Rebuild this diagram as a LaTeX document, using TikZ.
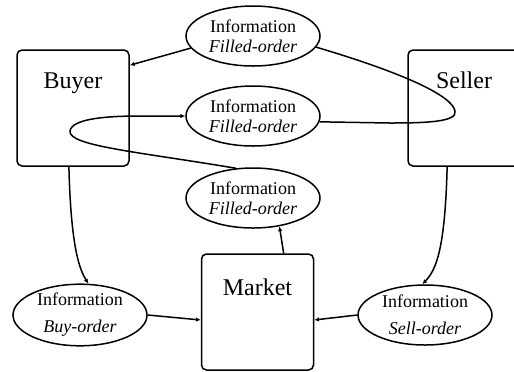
\documentclass[tikz,border=0pt]{standalone}
\usepackage{fontspec}
\setmainfont{Liberation Serif}
\usetikzlibrary{arrows.meta,shapes.geometric}

\begin{document}
\begin{tikzpicture}[
            x=0.5pt, y=-0.5pt,
            line width=0.75pt,
            box/.style={draw, rectangle, rounded corners=2.5pt, minimum width=56pt, minimum height=58pt,
                        inner sep=0pt, text height=8pt, font=\fontsize{12}{14}\selectfont},
            info/.style={draw, ellipse, minimum width=67pt, minimum height=30pt, inner sep=0pt,
                        align=center, font=\fontsize{9}{10}\selectfont},
            arr/.style={-{Latex[length=2.4pt, width=2.2pt]}}
        ]
            \useasboundingbox (0,0) rectangle (514,371);

            % agents
            \node[box, text depth=28pt] (buyer) at (73,108) {Buyer};
            \node[box, text depth=28pt] (seller) at (464,108) {Seller};
            \node[box, text depth=25pt] (market) at (257.5,312) {Market};

            % information
            \node[info] (filltop) at (253,36) {Information \\ \textit{Filled-order}};
            \node[info] (fillmid) at (253,116) {Information \\ \textit{Filled-order}};
            \node[info] (fillbot) at (253,198) {Information \\ \textit{Filled-order}};
            \node[info] (buyinfo) at (80,315) {Information \\[3.5pt] \textit{Buy-order}};
            \node[info] (sellinfo) at (425,315) {Information \\[3.5pt] \textit{Sell-order}};

            \draw[arr] (buyer.-94) .. controls (71,250) and (80,270) .. (buyinfo.75);
            \draw[arr] (seller.-106) .. controls (445,250) and (436,270) .. (sellinfo.95);
            \draw[arr] (buyinfo.east) -- (market.188);
            \draw[arr] (sellinfo.west) -- (market.-8);
            \draw[arr] (market.66) -- (fillbot.-47);

            \draw[arr] (fillbot.120) .. controls (140,152) and (68,146) .. (70,131)
                .. controls (72,118) and (110,116) .. (140,116) -- (fillmid.west);
            \draw (fillmid.-5) -- (390,123) .. controls (425,123) and (458,122) .. (455,111)
                .. controls (452,95) and (400,72) .. (filltop.-10);
            \draw[arr] (filltop.191) -- (buyer.37.5);

        \end{tikzpicture}
\end{document}
